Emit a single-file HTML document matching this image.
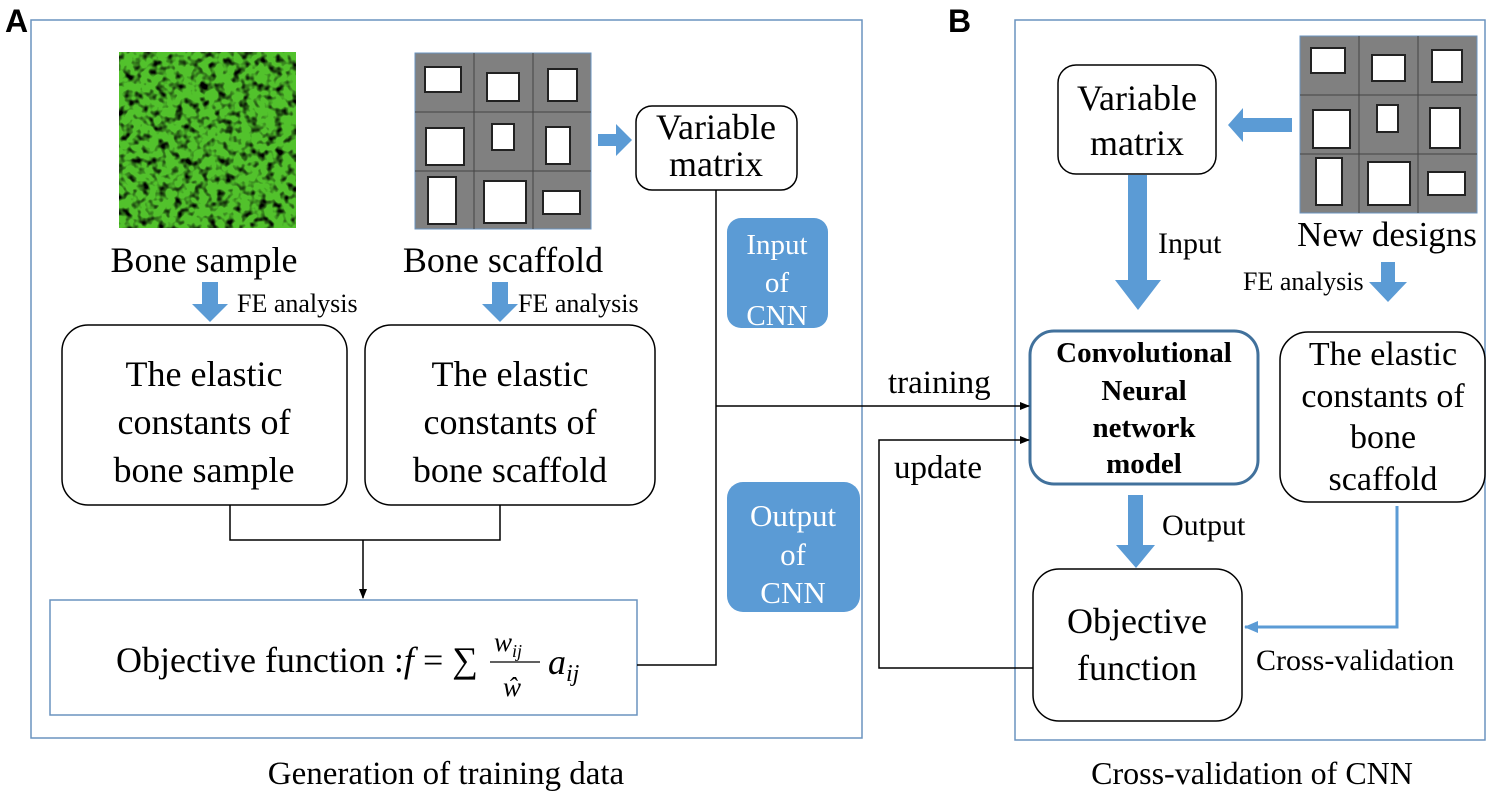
<!DOCTYPE html>
<html><head><meta charset="utf-8"><style>
html,body{margin:0;padding:0;background:#fff;}
svg{display:block;font-family:"Liberation Serif",serif;}
</style></head><body>
<svg width="1500" height="793" viewBox="0 0 1500 793" xmlns="http://www.w3.org/2000/svg">
<defs>
<marker id="ah" markerWidth="10" markerHeight="10" refX="9" refY="5" orient="auto" markerUnits="userSpaceOnUse"><path d="M0,1 L10,5 L0,9 Z" fill="#000"/></marker>
<marker id="ahb" markerWidth="14" markerHeight="14" refX="13" refY="7" orient="auto" markerUnits="userSpaceOnUse"><path d="M0,1 L14,7 L0,13 Z" fill="#5b9bd5"/></marker>
<filter id="tex" x="0" y="0" width="100%" height="100%">
<feTurbulence type="fractalNoise" baseFrequency="0.12" numOctaves="2" seed="3"/>
<feColorMatrix type="matrix" values="0 0 0 0 0  0 0 0 0 0  0 0 0 0 0  0 0 0 -3.2 1.7"/>
</filter>
</defs>
<g font-family="Liberation Sans,sans-serif" font-weight="bold" font-size="32"><text x="5" y="32">A</text><text x="948" y="32">B</text></g>
<rect x="31" y="20" width="831" height="718" fill="none" stroke="#6a93bf" stroke-width="1.5"/>
<rect x="1015" y="20" width="470" height="720" fill="none" stroke="#6a93bf" stroke-width="1.5"/>

<rect x="119" y="52" width="177" height="176" fill="#52c22c"/>
<rect x="119" y="52" width="177" height="176" fill="#000" filter="url(#tex)"/>

<g stroke="#222" stroke-width="2">
<rect x="415" y="53" width="176" height="176" fill="#808080" stroke="#6a93bf" stroke-width="1"/>
<line x1="474" y1="53" x2="474" y2="229" stroke="#444" stroke-width="1"/><line x1="533" y1="53" x2="533" y2="229" stroke="#444" stroke-width="1"/>
<line x1="415" y1="112" x2="591" y2="112" stroke="#444" stroke-width="1"/><line x1="415" y1="171" x2="591" y2="171" stroke="#444" stroke-width="1"/>
<g fill="#fff">
<rect x="425" y="67" width="36" height="25"/><rect x="487" y="73" width="32" height="28"/><rect x="548" y="69" width="29" height="32"/>
<rect x="426" y="128" width="38" height="37"/><rect x="492" y="124" width="22" height="26"/><rect x="546" y="127" width="24" height="37"/>
<rect x="428" y="177" width="28" height="47"/><rect x="484" y="181" width="42" height="42"/><rect x="543" y="191" width="37" height="23"/>
</g></g>

<g stroke="#222" stroke-width="2">
<rect x="1300" y="36" width="177" height="177" fill="#808080" stroke="#6a93bf" stroke-width="1"/>
<line x1="1359" y1="36" x2="1359" y2="213" stroke="#444" stroke-width="1"/><line x1="1418" y1="36" x2="1418" y2="213" stroke="#444" stroke-width="1"/>
<line x1="1300" y1="95" x2="1477" y2="95" stroke="#444" stroke-width="1"/><line x1="1300" y1="154" x2="1477" y2="154" stroke="#444" stroke-width="1"/>
<g fill="#fff">
<rect x="1311" y="48" width="34" height="25"/><rect x="1372" y="55" width="33" height="26"/><rect x="1432" y="50" width="30" height="32"/>
<rect x="1313" y="110" width="37" height="38"/><rect x="1377" y="105" width="21" height="27"/><rect x="1430" y="108" width="30" height="40"/>
<rect x="1316" y="158" width="26" height="47"/><rect x="1368" y="162" width="42" height="43"/><rect x="1428" y="172" width="37" height="23"/>
</g></g>

<g fill="#5b9bd5">
<path d="M598,134 h18 v-10 l16,16 l-16,16 v-10 h-18 z"/>
<path d="M1292,118 h-49 v-10 l-15,17 l15,17 v-10 h49 z"/>
<path d="M202,282 h16 v22 h10 l-18,18 l-18,-18 h10 z"/>
<path d="M492,282 h16 v22 h10 l-18,18 l-18,-18 h10 z"/>
<path d="M1128,175 h19 v105 h14 l-23,30 l-23,-30 h13 z"/>
<path d="M1381,262 h14 v20 h12 l-19,20 l-19,-20 h12 z"/>
<path d="M1128,495 h15 v50 h12 l-19,23 l-20,-23 h12 z"/>
</g>

<g font-size="36" text-anchor="middle" fill="#000">
<text x="204" y="272">Bone sample</text>
<text x="503" y="272">Bone scaffold</text>
<text x="1387" y="246" font-size="35">New designs</text>
</g>
<g font-size="26" fill="#000">
<text x="237" y="312">FE analysis</text>
<text x="518" y="312">FE analysis</text>
<text x="1243" y="290">FE analysis</text>
<text x="1158" y="253" font-size="30">Input</text>
<text x="1162" y="535" font-size="30">Output</text>
<text x="1256" y="670" font-size="30">Cross-validation</text>
</g>

<g fill="#fff" stroke="#000" stroke-width="1.5">
<rect x="636" y="106" width="161" height="84" rx="16"/>
<rect x="1058" y="65" width="158" height="109" rx="18"/>
<rect x="62" y="325" width="285" height="180" rx="26"/>
<rect x="365" y="325" width="290" height="180" rx="26"/>
<rect x="1280" y="332" width="205" height="170" rx="28"/>
<rect x="1033" y="569" width="209" height="152" rx="26"/>
</g>
<rect x="1030" y="331" width="228" height="153" rx="24" fill="#fff" stroke="#41719c" stroke-width="3"/>
<rect x="50" y="600" width="587" height="115" fill="#fff" stroke="#6a93bf" stroke-width="1.5"/>

<g font-size="36" text-anchor="middle" fill="#000">
<text x="716" y="139">Variable</text><text x="716" y="176">matrix</text>
<text x="1137" y="110">Variable</text><text x="1137" y="155">matrix</text>
<text x="204" y="386">The elastic</text><text x="204" y="434">constants of</text><text x="204" y="482">bone sample</text>
<text x="510" y="386">The elastic</text><text x="510" y="434">constants of</text><text x="510" y="482">bone scaffold</text>
<g font-size="34"><text x="1383" y="365">The elastic</text><text x="1383" y="407">constants of</text><text x="1383" y="448">bone</text><text x="1383" y="490">scaffold</text></g>
<text x="1137" y="633">Objective</text><text x="1137" y="680">function</text>
</g>
<g font-size="29" font-weight="bold" text-anchor="middle">
<text x="1144" y="362">Convolutional</text><text x="1144" y="400">Neural</text><text x="1144" y="437">network</text><text x="1144" y="473">model</text>
</g>
<text x="116" y="672" font-size="36">Objective  function :<tspan font-style="italic">f</tspan> = ∑</text>
<g font-style="italic" font-size="27"><text x="494" y="651">w<tspan font-size="18" dy="6">ij</tspan></text><text x="503" y="696">ŵ</text></g>
<line x1="490" y1="662" x2="540" y2="662" stroke="#000" stroke-width="1.3"/>
<text x="548" y="674" font-size="36" font-style="italic">a<tspan font-size="24" dy="7">ij</tspan></text>

<rect x="727" y="218" width="101" height="110" rx="14" fill="#5b9bd5"/>
<rect x="727" y="482" width="133" height="130" rx="16" fill="#5b9bd5"/>
<g font-size="29" fill="#fff" text-anchor="middle">
<text x="777" y="254">Input</text><text x="777" y="292">of</text><text x="777" y="325">CNN</text>
<text x="793" y="526" font-size="31">Output</text><text x="793" y="565" font-size="31">of</text><text x="793" y="603" font-size="31">CNN</text>
</g>

<g fill="none" stroke="#000" stroke-width="1.5">
<polyline points="230,505 230,540 500,540 500,505"/>
<line x1="363" y1="540" x2="363" y2="598" marker-end="url(#ah)"/>
<polyline points="716,190 716,665 637,665"/>
<line x1="716" y1="406" x2="1029" y2="406" marker-end="url(#ah)"/>
<polyline points="1033,668 879,668 879,440 1029,440" marker-end="url(#ah)"/>
</g>
<polyline points="1397,506 1397,627 1245,627" fill="none" stroke="#5b9bd5" stroke-width="3" marker-end="url(#ahb)"/>
<g font-size="33" fill="#000">
<text x="888" y="393">training</text>
<text x="894" y="478">update</text>
</g>
<g font-size="33" text-anchor="middle">
<text x="446" y="784">Generation of training data</text>
<text x="1252" y="784" font-size="32">Cross-validation of CNN</text>
</g>
</svg>
</body></html>
